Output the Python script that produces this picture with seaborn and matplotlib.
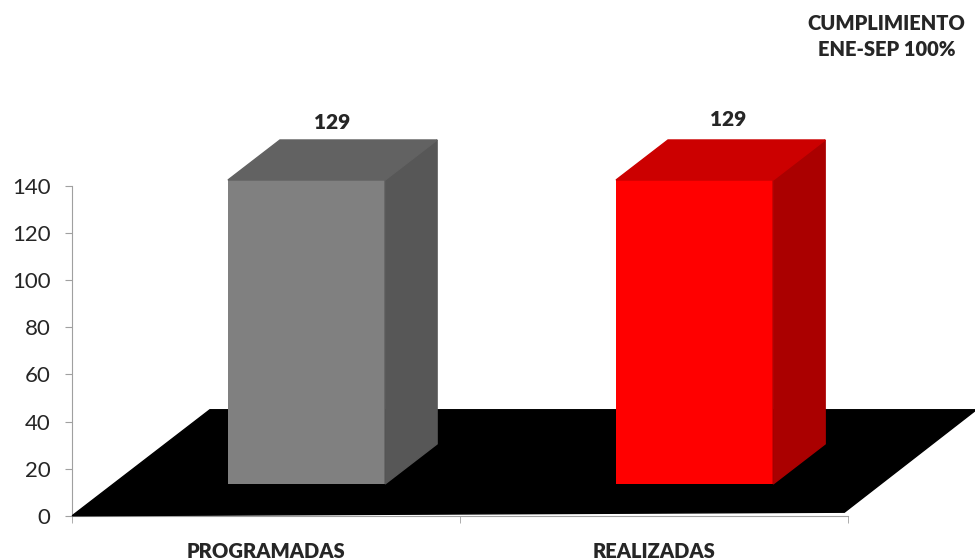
import matplotlib
matplotlib.use('Agg')
import matplotlib.pyplot as plt
import seaborn as sns

# chart values
categories = ['PROGRAMADAS', 'REALIZADAS']
values = [129, 129]
front_colors = ['#808080', '#ff0000']
side_colors = ['#575757', '#aa0000']
top_colors = ['#626262', '#cc0000']
y_ticks = [0, 20, 40, 60, 80, 100, 120, 140]
title_lines = ['CUMPLIMIENTO', 'ENE-SEP 100%']

sns.set_style('white')
plt.rcParams['font.family'] = ['Lato', 'DejaVu Sans']

fig = plt.figure(figsize=(9.75, 5.6), dpi=100)
ax = fig.add_axes([0.074, 0.079, 0.796, 0.589])

sns.barplot(x=categories, y=values, hue=categories, palette=front_colors,
            saturation=1, width=0.405, legend=False, ax=ax, zorder=4,
            linewidth=0)
bars = sorted(ax.patches, key=lambda p: p.get_x())

# 3d look: floor and depth offsets (x in category units, y in value units)
base = 13.5
dx, dy = 0.134, 17
floor = [(-0.5, 0), (1.49, 1.5), (1.83, 45), (-0.145, 45)]
ax.fill([p[0] for p in floor], [p[1] for p in floor], color='black',
        zorder=1, clip_on=False)

for i, p in enumerate(bars):
    p.set_x(p.get_x() + 0.104)
    p.set_y(base)
    p.set_clip_on(False)
    x0, w, h = p.get_x(), p.get_width(), p.get_height()
    x1, top = x0 + w, base + h
    ax.fill([x1, x1 + dx, x1 + dx, x1], [base, base + dy, top + dy, top],
            color=side_colors[i], zorder=4, clip_on=False)
    ax.fill([x0, x0 + dx, x1 + dx, x1], [top, top + dy, top + dy, top],
            color=top_colors[i], zorder=4, clip_on=False)
    ax.text(x0 + w / 2 + dx / 2 + 0.02 * i, top + dy + 7.5 + i, str(values[i]),
            ha='center', va='center', fontsize=15, fontweight='heavy',
            clip_on=False)

ax.set_xlim(-0.5, 1.5)
ax.set_ylim(0, 140)
ax.set_yticks(y_ticks)
ax.tick_params(axis='y', labelsize=16, length=5, color='#a0a0a0', left=True, pad=10.5)
ax.set_xticks([0, 1])
ax.set_xticklabels(categories, fontsize=14.5, fontweight='heavy')
ax.set_xticks([-0.5, 0.5, 1.5], minor=True)
ax.tick_params(axis='x', which='major', length=0, pad=19)
ax.tick_params(axis='x', which='minor', length=5, color='#a0a0a0', bottom=True)
ax.set_xlabel('')
ax.set_ylabel('')
for s in ['top', 'right']:
    ax.spines[s].set_visible(False)
for s in ['left', 'bottom']:
    ax.spines[s].set_color('#a0a0a0')
    ax.spines[s].set_zorder(0)

fig.text(0.909, 0.975, '\n'.join(title_lines), ha='center', va='top',
         fontsize=14.5, fontweight='heavy', linespacing=1.45)

fig.savefig('out.png', dpi=100)
